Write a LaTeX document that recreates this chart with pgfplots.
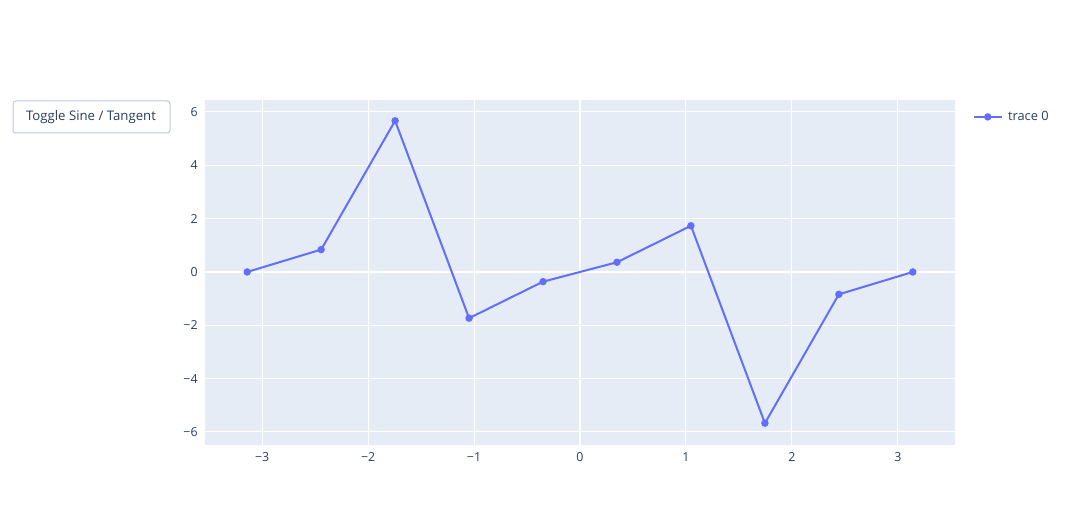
\documentclass[border=0pt]{standalone}
\usepackage{fontspec}
\setmainfont{Open Sans}
\usepackage{pgfplots}
\pgfplotsset{compat=1.18}
\definecolor{bgplot}{HTML}{E5ECF6}
\definecolor{txt}{HTML}{2A3F5F}
\definecolor{trace}{HTML}{636EFA}
\definecolor{btnborder}{HTML}{BEC8D9}
\begin{document}
\begin{tikzpicture}[x=0.75pt,y=0.75pt]
\useasboundingbox (0,0) rectangle (1070,525);
\begin{axis}[
  at={(205*0.75pt,80*0.75pt)}, anchor=south west,
  scale only axis, width=750*0.75pt, height=345*0.75pt,
  xmin=-3.54, xmax=3.54, ymin=-6.49, ymax=6.45,
  axis background/.style={fill=bgplot},
  axis line style={draw=none},
  major tick length=0pt,
  grid=major, major grid style={white, line width=0.75pt},
  xtick={-3,-2,-1,0,1,2,3},
  xticklabels={−3,−2,−1,0,1,2,3},
  ytick={-6,-4,-2,0,2,4,6},
  yticklabels={−6,−4,−2,0,2,4,6},
  tick label style={font=\fontsize{9.3}{10}\selectfont, text=txt},
  xticklabel style={yshift=-2pt},
  yticklabel style={xshift=-2pt},
  legend style={at={(rel axis cs:1.018,0.951)}, anchor=west, draw=none, fill=none,
    font=\fontsize{9.6}{10}\selectfont\color{txt},
    nodes={inner xsep=4pt}},
  legend cell align=left,
  legend image code/.code={\draw[trace, line width=1.5pt] (0pt,0pt) -- (21pt,0pt); \fill[trace] (10.5pt,0pt) circle (2pt);},
  clip=false,
]
\addplot[white, line width=1.5pt, forget plot] coordinates {(0,-6.49) (0,6.45)};
\addplot[white, line width=1.5pt, forget plot] coordinates {(-3.54,0) (3.54,0)};
\addplot[trace, line width=1.5pt, mark=*, mark size=2pt, mark options={fill=trace, draw=trace}] coordinates {
(-3.14159, 0.0)
(-2.44346, 0.8391)
(-1.74533, 5.6713)
(-1.0472, -1.7321)
(-0.34907, -0.3640)
(0.34907, 0.3640)
(1.0472, 1.7321)
(1.74533, -5.6713)
(2.44346, -0.8391)
(3.14159, 0.0)
};
\addlegendentry{trace 0}
\end{axis}
\draw[btnborder, line width=0.75pt, rounded corners=2pt, fill=white] (13,392) rectangle (170,424);
\node[text=txt, font=\fontsize{9.9}{10}\selectfont] at (91,408) {Toggle Sine / Tangent};
\end{tikzpicture}
\end{document}
